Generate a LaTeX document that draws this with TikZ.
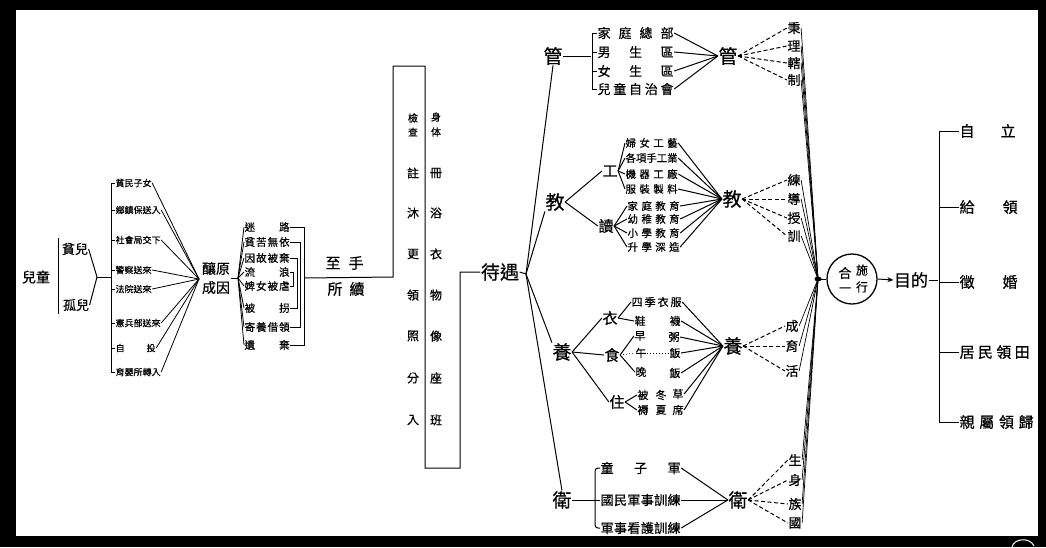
\documentclass[tikz,border=0pt]{standalone}
\usepackage{fontspec}
\newfontfamily\cjk{Noto Sans CJK TC}[FakeBold=0.5]
\usetikzlibrary{arrows.meta,calc}
\newcommand\fsz[1]{\fontsize{#1}{#1}\selectfont}
\newcommand\spr[2]{\makebox[#1][s]{#2}}
\tikzset{
  tx/.style={font=\cjk\fsz{#1}, inner sep=0pt, outer sep=0.6pt},
  tx/.default=11,
  dsh/.style={dash pattern=on 4pt off 2.5pt},
  dotl/.style={dash pattern=on 1pt off 2pt, line width=0.6pt},
}
\begin{document}
\begin{tikzpicture}[x=1pt,y=-1pt,line width=1pt]
\useasboundingbox (0,0) rectangle (1046,547);
% frame
\fill[black] (0,0) rectangle (1046,547);
\fill[white] (16,10) rectangle (1038,536);
\draw[white, line width=1pt] (1012,547) .. controls (1014,538) and (1030,537) .. (1034,546);

% ---------------- left part
\node[tx=14] (ertong) at (36,277) {兒童};
\node[tx=13] (pin) at (75,249) {貧兒};
\node[tx=13] (gu) at (76,305) {孤兒};
\coordinate (bk0a) at (58,238);
\coordinate (bk0b) at (58,314);
\draw (bk0a) -- (bk0b);
\coordinate (j1) at (97,277);
\coordinate (j2) at (110.5,277);
\draw (pin.east) -- (j1);
\draw (gu.east) -- (j1);
\draw (j1) -- (j2);

\node[tx=9,anchor=west] (s1) at (115,183) {貧民子女};
\node[tx=9,anchor=west] (s2) at (115,210) {鄉鎮保送入};
\node[tx=9,anchor=west] (s3) at (115,240) {社會局交下};
\node[tx=9,anchor=west] (s4) at (115,270) {警察送來};
\node[tx=9,anchor=west] (s5) at (115,289) {法院送來};
\node[tx=9,anchor=west] (s6) at (115,323) {憲兵部送來};
\node[tx=9,anchor=west] (s7) at (115,348) {\spr{40pt}{自\hfill{}投}};
\node[tx=9,anchor=west] (s8) at (115,372) {育嬰所轉入};
\draw (s1.west) -- ++(-4,0) |- (s8.west);
\foreach \i in {2,...,7} \draw (s\i.west) -- ++(-4,0);

\node[font=\cjk\fontsize{14}{19}\selectfont, inner sep=0pt, outer sep=0.6pt, align=center] (yuan) at (216,278) {釀原\\成因};
\coordinate (c1) at (199,279);
\foreach \i in {1,...,8} \draw[line width=0.8pt] (s\i.east) -- (c1);
\coordinate (c2) at (238,278);
\draw (yuan.east) -- (c2);

\node[tx=10.5,anchor=west] (k1) at (244,227) {\spr{45pt}{迷\hfill{}路}};
\node[tx=10.5,anchor=west] (k2) at (244,242) {\spr{45pt}{貧\hfill{}苦\hfill{}無\hfill{}依}};
\node[tx=10.5,anchor=west] (k3) at (244,258) {\spr{45pt}{因\hfill{}故\hfill{}被\hfill{}棄}};
\node[tx=10.5,anchor=west] (k4) at (244,272) {\spr{45pt}{流\hfill{}浪}};
\node[tx=10.5,anchor=west] (k5) at (244,286) {\spr{45pt}{婢\hfill{}女\hfill{}被\hfill{}虐}};
\node[tx=10.5,anchor=west] (k6) at (244,308) {\spr{45pt}{被\hfill{}拐}};
\node[tx=10.5,anchor=west] (k7) at (244,327) {\spr{45pt}{寄\hfill{}養\hfill{}借\hfill{}領}};
\node[tx=10.5,anchor=west] (k8) at (244,345) {\spr{45pt}{遺\hfill{}棄}};
\foreach \i in {1,...,8} \draw[line width=0.8pt] (c2) -- (k\i.west);
\draw (k1.east) -- ++(14,0) |- (k8.east);
\draw (k2.east) -- ++(10.5,0) |- (k7.east);
\draw (k3.east) -- ++(7,0) |- (k6.east);
\draw (k4.east) -- ++(3.5,0) |- (k5.east);

\coordinate (b0) at ($(k1.east)+(14,0)$);
\node[tx=15] (z1) at (333,263) {至};
\node[tx=15] (z2) at (356,263) {手};
\node[tx=15] (z3) at (335,289) {所};
\node[tx=15] (z4) at (357,289) {續};

\coordinate (v1) at (393,277);
\coordinate (v2) at (393,66);
\coordinate (v3) at (425,66);
\coordinate (v4) at (425,468);
\coordinate (v5) at (460,468);
\coordinate (v6) at (460,272);
\node[tx=19] (daiyu) at (500,272) {待遇};
\draw (b0 |- c2) -- (v1) -- (v2) -- (v3) -- (v4) -- (v5) -- (v6) -- (daiyu.west);

% intake steps
\node[tx=10] (pa1) at (413,118) {檢};
\node[tx=10] (pa2) at (413,132) {查};
\node[tx=10] (pb1) at (436,117) {身};
\node[tx=10] (pb2) at (436,132) {体};
\node[tx=12] (pl1) at (413,173) {註};
\node[tx=12] (pr1) at (436,173) {冊};
\node[tx=12] (pl2) at (413,213) {沐};
\node[tx=12] (pr2) at (436,213) {浴};
\node[tx=12] (pl3) at (413,254) {更};
\node[tx=12] (pr3) at (436,254) {衣};
\node[tx=12] (pl4) at (413,295) {領};
\node[tx=12] (pr4) at (436,295) {物};
\node[tx=12] (pl5) at (413,336) {照};
\node[tx=12] (pr5) at (436,336) {像};
\node[tx=12] (pl6) at (413,378) {分};
\node[tx=12] (pr6) at (436,378) {座};
\node[tx=12] (pl7) at (413,420) {入};
\node[tx=12] (pr7) at (436,420) {班};

% ---------------- four branches
\coordinate (d0) at (526,274);
\draw (daiyu.east) -- (d0);
\node[tx=19] (guan) at (553,56) {管};
\node[tx=19] (jiao) at (555,202) {教};
\node[tx=19] (yang) at (562,352) {養};
\node[tx=19] (wei) at (562,500) {衛};
\draw (d0) -- (guan.south);
\draw (d0) -- (jiao.south west);
\draw (d0) -- (yang.north west);
\draw (d0) -- (wei.north);

% 管
\node[tx=13,anchor=west] (g1) at (597,33) {\spr{76pt}{家\hfill{}庭\hfill{}總\hfill{}部}};
\node[tx=13,anchor=west] (g2) at (597,52) {\spr{76pt}{男\hfill{}生\hfill{}區}};
\node[tx=13,anchor=west] (g3) at (597,71) {\spr{76pt}{女\hfill{}生\hfill{}區}};
\node[tx=13,anchor=west] (g4) at (597,89) {\spr{76pt}{兒\hfill{}童\hfill{}自\hfill{}治\hfill{}會}};
\draw (g1.west) -- ++(-5,0) |- (g4.west);
\draw (g2.west) -- ++(-5,0);
\draw (g3.west) -- ++(-5,0);
\coordinate (gbk) at (591.4,56);
\draw (guan.east) -- (gbk);
\node[tx=19] (guan2) at (728,56) {管};
\foreach \i in {1,...,4} \draw (g\i.east) -- (guan2.west);
\node[tx=13] (q1) at (794,28) {秉};
\node[tx=13] (q2) at (794,46) {理};
\node[tx=13] (q3) at (794,63) {轄};
\node[tx=13] (q4) at (794,80) {制};
\foreach \i in {1,...,4} \draw[dsh] (guan2.east) -- (q\i.west);

% 教
\node[tx=15] (gong) at (610,171) {工};
\node[tx=15] (du) at (606,226) {讀};
\draw (jiao.east) -- (gong.west);
\draw (jiao.east) -- (du.west);
\node[tx=10.4,anchor=west] (e1) at (625,143) {\spr{52pt}{婦\hfill{}女\hfill{}工\hfill{}藝}};
\node[tx=10.4,anchor=west] (e2) at (625,158) {\spr{52pt}{各\hfill{}項\hfill{}手\hfill{}工\hfill{}業}};
\node[tx=10.4,anchor=west] (e3) at (625,174) {\spr{52pt}{機\hfill{}器\hfill{}工\hfill{}廠}};
\node[tx=10.4,anchor=west] (e4) at (625,189) {\spr{52pt}{服\hfill{}裝\hfill{}製\hfill{}料}};
\node[tx=10.4,anchor=west] (f1) at (627,206) {\spr{52pt}{家\hfill{}庭\hfill{}教\hfill{}育}};
\node[tx=10.4,anchor=west] (f2) at (627,219) {\spr{52pt}{幼\hfill{}稚\hfill{}教\hfill{}育}};
\node[tx=10.4,anchor=west] (f3) at (627,233) {\spr{52pt}{小\hfill{}學\hfill{}教\hfill{}育}};
\node[tx=10.4,anchor=west] (f4) at (627,247) {\spr{52pt}{升\hfill{}學\hfill{}深\hfill{}造}};
\foreach \i in {1,...,4} \draw (gong.east) -- (e\i.west);
\foreach \i in {1,...,4} \draw (du.east) -- (f\i.west);
\node[tx=19] (jiao2) at (732,199) {教};
\foreach \i in {1,...,4} \draw (e\i.east) -- (jiao2.west);
\foreach \i in {1,...,4} \draw (f\i.east) -- (jiao2.west);
\node[tx=13] (r1) at (794,180) {練};
\node[tx=13] (r2) at (794,199) {導};
\node[tx=13] (r3) at (794,218) {授};
\node[tx=13] (r4) at (794,236) {訓};
\foreach \i in {1,...,4} \draw[dsh] (jiao2.east) -- (r\i.west);

% 養
\node[tx=15] (yi) at (610,318) {衣};
\node[tx=15] (shi) at (612,355) {食};
\node[tx=15] (zhu) at (617,402) {住};
\draw (yang.east) -- (yi.west);
\draw (yang.east) -- (shi.west);
\draw (yang.east) -- (zhu.west);
\node[tx=11,anchor=west] (h1) at (631,302) {\spr{50pt}{四\hfill{}季\hfill{}衣\hfill{}服}};
\node[tx=11,anchor=west] (h2) at (634,321) {\spr{46pt}{鞋\hfill{}襪}};
\draw (yi.east) -- (h1.west);
\draw (yi.east) -- (h2.west);
\node[tx=11] (h3a) at (640,336) {早};
\node[tx=11] (h3b) at (674,337) {粥};
\node[tx=11] (h4a) at (641,353) {午};
\node[tx=11] (h4b) at (675,353) {飯};
\node[tx=11] (h5a) at (641,372) {晚};
\node[tx=11] (h5b) at (675,373) {飯};
\draw (shi.east) -- (h3a.west);
\draw[dotl] (shi.east) -- (h4a.west);
\draw[dotl] (h4a.east) -- (h4b.west);
\draw (shi.east) -- (h5a.west);
\node[tx=11] (m1) at (643,395) {被};
\node[tx=11] (m2) at (661,395) {冬};
\node[tx=11] (m3) at (678,394) {草};
\node[tx=11] (m4) at (643,410) {褥};
\node[tx=11] (m5) at (661,410) {夏};
\node[tx=11] (m6) at (678,410) {席};
\draw (zhu.east) -- (m1.west);
\draw (zhu.east) -- (m4.west);
\node[tx=19] (yang2) at (733,346) {養};
\foreach \n in {h1,h2,h3b,h4b,h5b,m3,m6} \draw (\n.east) -- (yang2.west);
\node[tx=13] (u1) at (792,326) {成};
\node[tx=13] (u2) at (792,346) {育};
\node[tx=13] (u3) at (792,371) {活};
\foreach \i in {1,...,3} \draw[dsh] (yang2.east) -- (u\i.west);

% 衛
\node[tx=13,anchor=west] (w1) at (600,468) {\spr{80pt}{童\hfill{}子\hfill{}軍}};
\node[tx=13,anchor=west] (w2) at (600,500) {\spr{80pt}{國\hfill{}民\hfill{}軍\hfill{}事\hfill{}訓\hfill{}練}};
\node[tx=13,anchor=west] (w3) at (600,528) {\spr{80pt}{軍\hfill{}事\hfill{}看\hfill{}護\hfill{}訓\hfill{}練}};
\draw[rounded corners=3pt] (w1.west) -- ++(-5,0) |- (w3.west);
\draw (wei.east) -- (w2.west);
\node[tx=19] (wei2) at (738,500) {衛};
\foreach \i in {1,...,3} \draw (w\i.east) -- (wei2.west);
\node[tx=13] (t1) at (795,460) {生};
\node[tx=13] (t2) at (795,480) {身};
\node[tx=13] (t3) at (795,504) {族};
\node[tx=13] (t4) at (795,523) {國};
\foreach \i in {1,...,4} \draw[dsh] (wei2.east) -- (t\i.west);

% ---------------- convergence
\coordinate (knot) at (818,279);
\foreach \n in {q1,q2,q3,q4,r1,r2,r3,r4,u1,u2,u3,t1,t2,t3,t4} \draw[line width=0.7pt] (\n.east) -- (knot);
\fill (knot) ellipse (3.5 and 2.5);
\node[draw, circle, minimum size=50pt, inner sep=0pt, line width=1.3pt] (huan) at (852,279) {};
\draw (knot) -- (huan.west);
\node[tx=13] (he1) at (845,273) {合};
\node[tx=12] (he2) at (845,290) {一};
\node[tx=12] (he3) at (862,270) {施};
\node[tx=12] (he4) at (862,287) {行};
\node[tx=17] (mudi) at (911,280) {目的};
\draw[-{Stealth[length=6pt,width=5pt]}] (huan.east) -- (mudi.west);

% ---------------- aims
\node[tx=15,anchor=west] (o1) at (959,131) {\spr{56pt}{自\hfill{}立}};
\node[tx=15,anchor=west] (o2) at (959,207) {\spr{58pt}{給\hfill{}領}};
\node[tx=15,anchor=west] (o3) at (959,282) {\spr{58pt}{徵\hfill{}婚}};
\node[tx=15,anchor=west] (o4) at (959,352) {\spr{70pt}{居\hfill{}民\hfill{}領\hfill{}田}};
\node[tx=15,anchor=west] (o5) at (959,422) {\spr{74pt}{親\hfill{}屬\hfill{}領\hfill{}歸}};
\draw (o1.west) -- ++(-20,0) |- (o5.west);
\foreach \i in {2,3,4} \draw (o\i.west) -- ++(-20,0);
\coordinate (rb) at (938.4,280);
\draw (mudi.east) -- (rb);
\end{tikzpicture}
\end{document}
